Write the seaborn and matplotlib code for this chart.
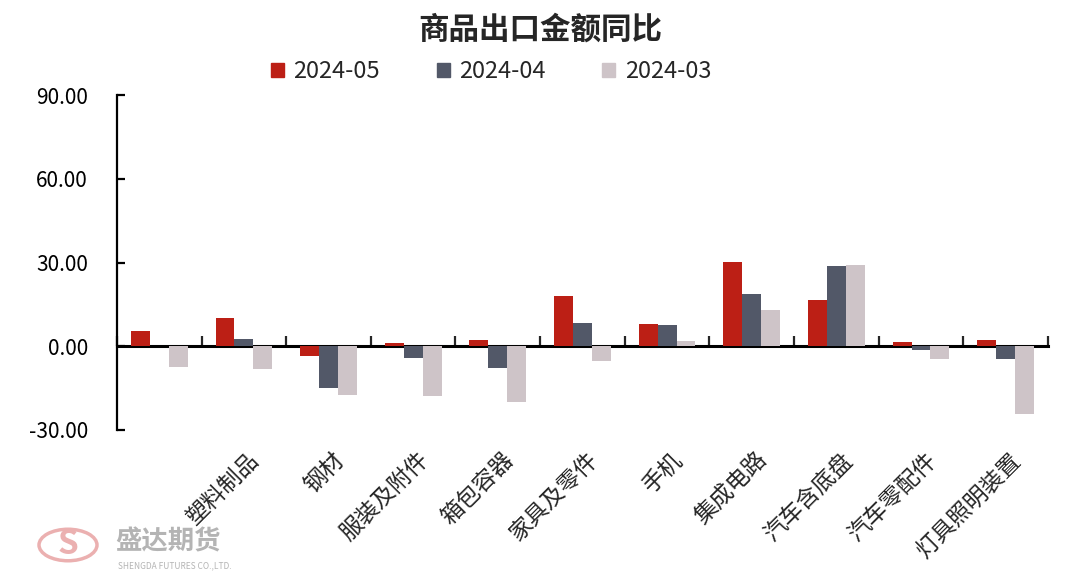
import pandas as pd
import matplotlib.pyplot as plt
import matplotlib.patches as mpatches
import matplotlib.transforms as mtransforms
import seaborn as sns

# -------------------------
# data
# -------------------------
categories = ["其他", "塑料制品", "钢材", "服装及附件", "箱包容器", "家具及零件",
              "手机", "集成电路", "汽车含底盘", "汽车零配件", "灯具照明装置"]
tick_labels = ["", "塑料制品", "钢材", "服装及附件", "箱包容器", "家具及零件",
               "手机", "集成电路", "汽车含底盘", "汽车零配件", "灯具照明装置"]
months = ["2024-05", "2024-04", "2024-03"]
v_2024_05 = [5.5, 10.3, -3.6, 1.2, 2.4, 17.9, 7.9, 30.2, 16.5, 1.6, 2.4]
v_2024_04 = [0.0, 2.5, -14.9, -4.1, -7.8, 8.5, 7.5, 18.8, 28.7, -1.2, -4.7]
v_2024_03 = [-7.6, -8.0, -17.6, -17.8, -19.8, -5.4, 2.0, 13.1, 29.0, -4.7, -24.4]
colors = ["#BC1F15", "#525868", "#CEC4C8"]

df = pd.DataFrame({
    "cat": categories * 3,
    "month": [months[0]] * 11 + [months[1]] * 11 + [months[2]] * 11,
    "val": v_2024_05 + v_2024_04 + v_2024_03,
})

sns.set_style("white")
plt.rcParams["font.family"] = ["Noto Sans CJK SC", "DejaVu Sans"]

fig = plt.figure(figsize=(10.8, 5.87), dpi=100)
ax = fig.add_axes([0.1083, 0.2675, 0.8620, 0.5705])

sns.barplot(data=df, x="cat", y="val", hue="month", order=categories,
            hue_order=months, palette=colors, width=0.67, ax=ax,
            linewidth=0, saturation=1)

ax.set_xlim(-0.5, len(categories) - 0.5)
ax.set_ylim(-30, 90)
ax.set_yticks([-30, 0, 30, 60, 90])
ax.set_yticklabels([f"{v:.2f}" for v in [-30, 0, 30, 60, 90]], fontsize=15)
ax.tick_params(axis="y", left=True, direction="in", length=6, width=1.6,
               pad=21, colors="black")
ax.set_xlabel("")
ax.set_ylabel("")

# category labels at the bottom
ax.set_xticks(range(len(categories)))
ax.set_xticklabels(tick_labels, rotation=45, ha="right", va="center",
                   rotation_mode="anchor", fontsize=16.5)
ax.tick_params(axis="x", bottom=False, length=0, pad=22)
shift = mtransforms.ScaledTranslation(12 / 100, 4 / 100, fig.dpi_scale_trans)
for lab in ax.get_xticklabels():
    lab.set_transform(lab.get_transform() + shift)

for s in ["top", "right", "bottom"]:
    ax.spines[s].set_visible(False)
ax.spines["left"].set_linewidth(1.6)
ax.spines["left"].set_color("black")

# zero line with category boundary ticks
zero = ax.secondary_xaxis(30 / 120)
zero.set_xticks([i + 0.5 for i in range(-1, len(categories))])
zero.set_xticklabels([])
zero.tick_params(axis="x", bottom=True, direction="in", length=7, width=1.6)
zero.spines["bottom"].set_linewidth(2.2)
zero.spines["bottom"].set_color("black")

# legend + title
handles = [mpatches.Patch(color=c, label=m) for c, m in zip(colors, months)]
ax.legend(handles=handles, loc="center", bbox_to_anchor=(0.402, 1.069), ncol=3,
          frameon=False, fontsize=17, handlelength=0.55, handleheight=0.55,
          handletextpad=0.4, columnspacing=2.4)
fig.text(0.5, 0.95, "商品出口金额同比", ha="center", va="center",
         fontsize=22, fontweight="bold")

# watermark logo
fig.patches.append(mpatches.Circle((68 / 1080, 1 - 545 / 587), 29 / 1080,
                                   transform=fig.transFigure, fill=False,
                                   edgecolor="#EBB0B0", linewidth=2.5))
fig.text(68 / 1080, 1 - 545 / 587, "S", ha="center", va="center",
         fontsize=24, color="#EBB0B0", fontweight="bold")
fig.text(115 / 1080, 1 - 542 / 587, "盛达期货", ha="left", va="center",
         fontsize=19, color="#B4B4B4", fontweight="bold")
fig.text(118 / 1080, 1 - 566 / 587, "SHENGDA FUTURES CO.,LTD.", ha="left",
         va="center", fontsize=6, color="#B4B4B4")

fig.savefig("out.png", dpi=100)
